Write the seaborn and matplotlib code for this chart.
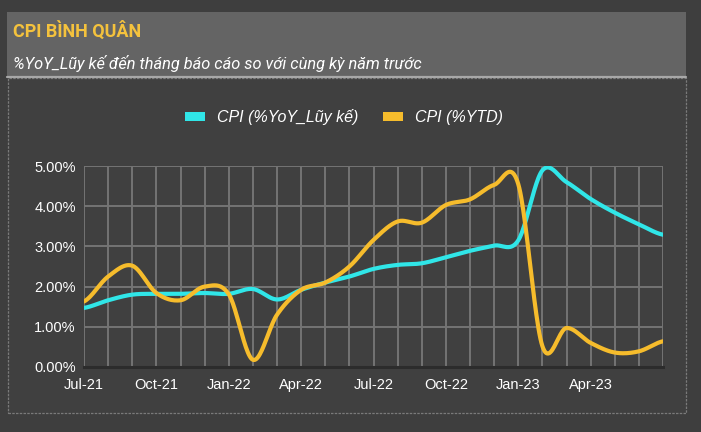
import numpy as np
import pandas as pd
import matplotlib.pyplot as plt
import seaborn as sns
from matplotlib.patches import Rectangle, Patch
from matplotlib.lines import Line2D

# data (monthly points, axis labelled Jul-21 .. Jul-23)
months=['Jul-21', 'Aug-21', 'Sep-21', 'Oct-21', 'Nov-21', 'Dec-21',
        'Jan-22', 'Feb-22', 'Mar-22', 'Apr-22', 'May-22', 'Jun-22',
        'Jul-22', 'Aug-22', 'Sep-22', 'Oct-22', 'Nov-22', 'Dec-22',
        'Jan-23', 'Feb-23', 'Mar-23', 'Apr-23', 'May-23', 'Jun-23', 'Jul-23']
cpi_yoy=[1.47, 1.66, 1.80, 1.82, 1.82, 1.84, 1.82, 1.94, 1.68, 1.92, 2.10, 2.25,
         2.44, 2.54, 2.58, 2.73, 2.89, 3.02, 3.15, 4.89, 4.60, 4.18, 3.84, 3.55, 3.29]
cpi_ytd=[1.63, 2.25, 2.52, 1.84, 1.66, 2.00, 1.81, 0.18, 1.30, 1.92, 2.10, 2.50,
         3.16, 3.62, 3.59, 4.03, 4.17, 4.53, 4.55, 0.52, 0.97, 0.60, 0.36, 0.39, 0.64]
tick_labels=['Jul-21', 'Oct-21', 'Jan-22', 'Apr-22', 'Jul-22', 'Oct-22', 'Jan-23', 'Apr-23']
y_ticks=[0, 1, 2, 3, 4, 5]
series_names=['CPI (%YoY_Lũy kế)', 'CPI (%YTD)']

title='CPI BÌNH QUÂN'
subtitle='%YoY_Lũy kế đến tháng báo cáo so với cùng kỳ năm trước'

BG='#404040'
HEADER='#646464'
CYAN='#30E6E8'
GOLD='#F6BC2C'
GRID='#747474'


def smooth(y, n=24):
    # Catmull-Rom style curve through the points, like the smoothed line option
    y=np.asarray(y, float)
    p=np.concatenate([[y[0]], y, [y[-1]]])
    xs, ys=[], []
    t=np.linspace(0, 1, n, endpoint=False)
    h00=2*t**3-3*t**2+1; h10=t**3-2*t**2+t
    h01=-2*t**3+3*t**2; h11=t**3-t**2
    for i in range(len(y)-1):
        m0=(p[i+2]-p[i])/2
        m1=(p[i+3]-p[i+1])/2
        xs.append(i+t)
        ys.append(h00*y[i]+h10*m0+h01*y[i+1]+h11*m1)
    xs.append([len(y)-1]); ys.append([y[-1]])
    return np.concatenate(xs), np.concatenate(ys)


frames=[]
for name, vals in zip(series_names, [cpi_yoy, cpi_ytd]):
    sx, sy=smooth(vals)
    frames.append(pd.DataFrame({'x': sx, 'y': sy, 'series': name}))
df=pd.concat(frames, ignore_index=True)

sns.set_style('dark')
plt.rcParams['font.family']=['Liberation Sans', 'DejaVu Sans']

W, H=701, 432
fig=plt.figure(figsize=(W/100, H/100), dpi=100)
fig.patch.set_facecolor('#3e3e3e')


def px(x0, y0, w, h):
    return (x0/W, 1-(y0+h)/H, w/W, h/H)


# header panel
x0, y0, w, h=px(7, 12, 679, 65)
fig.add_artist(Rectangle((x0, y0), w, h, transform=fig.transFigure,
                         facecolor=HEADER, edgecolor='none', zorder=0))
fig.add_artist(Line2D([7/W, 686/W], [1-77/H, 1-77/H], transform=fig.transFigure,
                      color='#a8a8a8', lw=1.6))
# chart frame
x0, y0, w, h=px(8, 78, 678, 335)
fig.add_artist(Rectangle((x0, y0), w, h, transform=fig.transFigure,
                         facecolor=BG, edgecolor='#7a7a7a', lw=0.9,
                         linestyle=(0, (2, 1)), zorder=0))

fig.text(13/W, 1-31/H, title, family=['Roboto', 'DejaVu Sans'], fontweight='bold',
         fontsize=13, color='#F4C23D', va='center', ha='left')
fig.text(13/W, 1-64/H, subtitle, family=['Roboto', 'DejaVu Sans'], style='italic',
         fontsize=11.8, color='white', va='center', ha='left')

ax=fig.add_axes([84/W, 1-367/H, (663-84)/W, (367-166)/H])
ax.set_facecolor(BG)
sns.lineplot(data=df, x='x', y='y', hue='series', hue_order=series_names,
             palette=[CYAN, GOLD], lw=3, sort=False, estimator=None,
             legend=False, ax=ax, zorder=3)

ax.set_xlim(0, len(months)-1)
ax.set_ylim(y_ticks[0], y_ticks[-1])
ax.set_xticks(range(len(months)), minor=True)
ax.set_xticks([months.index(m) for m in tick_labels])
ax.set_xticklabels(tick_labels)
ax.set_yticks(y_ticks)
ax.set_yticklabels([f'{v:.2f}%' for v in y_ticks])
ax.grid(True, which='both', color=GRID, lw=1.4)
ax.set_axisbelow(True)
ax.tick_params(which='both', length=0, colors='white', labelsize=10.5)
ax.tick_params(axis='y', pad=6)
ax.tick_params(axis='x', pad=8)
ax.set_xlabel(''); ax.set_ylabel('')
for s in ['top', 'right', 'left']:
    ax.spines[s].set_visible(False)
ax.spines['bottom'].set_color('#2c2c2c')
ax.spines['bottom'].set_linewidth(2.2)

handles=[Patch(facecolor=c, edgecolor='none') for c in [CYAN, GOLD]]
leg=fig.legend(handles, series_names, loc='center', bbox_to_anchor=(344/W, 1-117/H),
               ncol=2, frameon=False, handlelength=1.3, handleheight=0.45,
               handletextpad=0.75, columnspacing=1.5,
               prop={'style': 'italic', 'size': 11.5})
for t in leg.get_texts():
    t.set_color('white')

fig.savefig('out.png', dpi=100, facecolor=fig.get_facecolor())
